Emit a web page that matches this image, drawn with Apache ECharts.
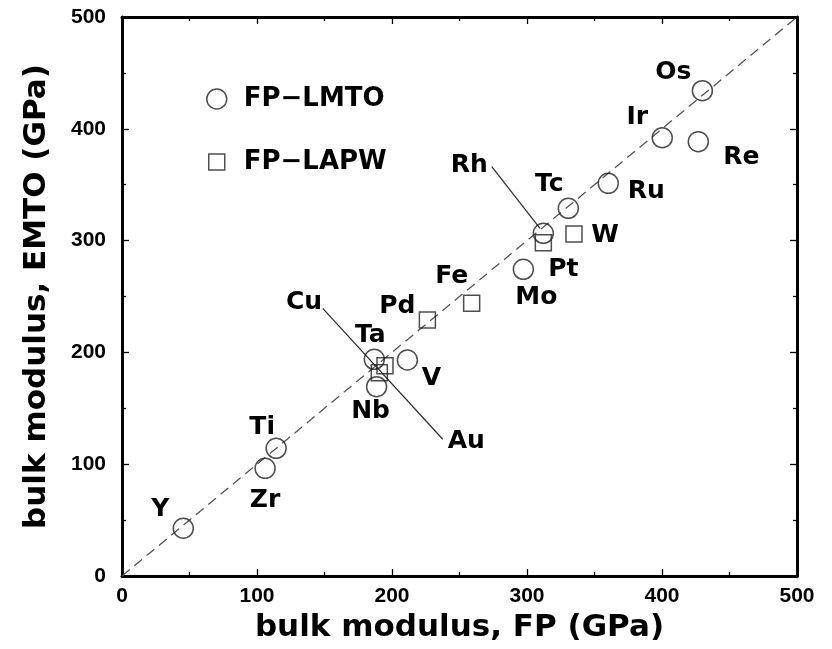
<!DOCTYPE html>
<html>
<head>
<meta charset="utf-8">
<script src="https://cdn.jsdelivr.net/npm/echarts@6/dist/echarts.min.js"></script>
<style>
html,body{margin:0;padding:0;background:#fff;}
#chart{width:832px;height:649px;}
</style>
</head>
<body>
<div id="chart"></div>
<script>
// ---- data ----
const lmtoNames = ['Y','Zr','Ti','Nb','Ta','V','Mo','Rh','Tc','Ru','Ir','Re','Os'];
const lmtoFP    = [45.4,106,114.2,188.6,186.9,211.4,297.3,312.1,330.6,360.2,400.2,426.9,429.9];
const lmtoEMTO  = [42.7,96.3,114.2,169.3,193.8,193.2,274.3,306.5,328.9,351.2,392,388.5,434.1];

const lapwNames = ['Au','Cu','Pd','Fe','Pt','W'];
const lapwFP    = [190.6,194.8,226.2,259,312.1,334.8];
const lapwEMTO  = [181.8,188.1,229,243.9,298.1,305.9];

const diagonal  = [[0,0],[500,500]];
const cuLeader  = [[148.7,239.4],[237.6,122.3]];
const rhLeader  = [[273.9,366.1],[309.6,311]];

const axisMin = 0, axisMax = 500, axisStep = 100;
const xTitle = 'bulk modulus, FP (GPa)';
const yTitle = 'bulk modulus, EMTO (GPa)';
const seriesNames = ['FP\u2212LMTO','FP\u2212LAPW'];

// ---- label placement (pixel offsets, style only) ----
const lmtoLabelOffsets = [[-23,-19],[0,32],[-14,-21],[-6,25],[-4,-24],[24,18],[13,28],[-74,-68],[-19,-24],[38,8],[-25,-20],[43,16],[-29,-18.5]];
const lapwLabelOffsets = [[87,69],[-81,-63],[-30,-13],[-20,-27],[20,27],[31,1]];

const FONT = 'DejaVu Sans';
const TICKFONT = 'Liberation Sans';

function pts(xs, ys, names, offs){
  return xs.map((x,i)=>({
    value:[x, ys[i]], name:names[i],
    label:{offset:offs[i]}
  }));
}

const chart = echarts.init(document.getElementById('chart'), null, {renderer:'canvas'});

function axisBase(pos, showLabel){
  return {
    type:'value', min:axisMin, max:axisMax, interval:axisStep, position:pos,
    axisLine:{show:true, onZero:false, lineStyle:{color:'#000', width:3}},
    axisTick:{show:true, inside:true, length:7, lineStyle:{color:'#000', width:1.3}},
    minorTick:{show:true, splitNumber:2, length:4, lineStyle:{color:'#000', width:1.3}},
    splitLine:{show:false},
    axisLabel:{show:showLabel, color:'#000', fontFamily:TICKFONT, fontWeight:'bold', fontSize:21}
  };
}

const xBottom = axisBase('bottom', true);
xBottom.axisLabel.margin = 10;
xBottom.name = xTitle; xBottom.nameLocation = 'middle'; xBottom.nameGap = 36;
xBottom.nameTextStyle = {color:'#000', fontFamily:FONT, fontWeight:'bold', fontSize:31};
const xTop = axisBase('top', false);

const yLeft = axisBase('left', true);
yLeft.axisLabel.margin = 16;
yLeft.name = yTitle; yLeft.nameLocation = 'middle'; yLeft.nameGap = 70;
yLeft.nameTextStyle = {color:'#000', fontFamily:FONT, fontWeight:'bold', fontSize:31};
const yRight = axisBase('right', false);

const labelStyle = {show:true, position:'inside', formatter:'{b}', color:'#000',
  textBorderWidth:0, textBorderColor:'transparent', opacity:1,
  fontFamily:FONT, fontWeight:'bold', fontSize:25, align:'center', verticalAlign:'middle'};

const option = {
  animation:false,
  backgroundColor:'#fff',
  grid:{left:122, right:35, top:17, bottom:73},
  xAxis:[xBottom, xTop],
  yAxis:[yLeft, yRight],
  legend:[
    {data:[{name:seriesNames[0], icon:'circle', itemStyle:{color:'rgba(0,0,0,0)', borderColor:'#222', borderWidth:1.5}}],
     left:201, top:81, itemWidth:20, itemHeight:20, selectedMode:false,
     textStyle:{color:'#000', fontFamily:FONT, fontWeight:'bold', fontSize:26, padding:[0,0,0,12]}},
    {data:[{name:seriesNames[1], icon:'rect', itemStyle:{color:'rgba(0,0,0,0)', borderColor:'#222', borderWidth:1.5}}],
     left:203, top:144, itemWidth:16, itemHeight:16, selectedMode:false,
     textStyle:{color:'#000', fontFamily:FONT, fontWeight:'bold', fontSize:26, padding:[0,0,0,14]}}
  ],
  series:[
    {type:'line', data:diagonal, symbol:'none', silent:true,
     lineStyle:{color:'#555', width:1.3, type:[10,6]}, z:1},
    {type:'line', data:cuLeader, symbol:'none', silent:true,
     lineStyle:{color:'#333', width:1.3}, z:1},
    {type:'line', data:rhLeader, symbol:'none', silent:true,
     lineStyle:{color:'#333', width:1.3}, z:1},
    {name:seriesNames[0], type:'scatter', symbol:'circle', symbolSize:20,
     data:pts(lmtoFP, lmtoEMTO, lmtoNames, lmtoLabelOffsets),
     itemStyle:{color:'rgba(0,0,0,0)', borderColor:'#222', borderWidth:1.5},
     label:labelStyle, z:3},
    {name:seriesNames[1], type:'scatter', symbol:'rect', symbolSize:16,
     data:pts(lapwFP, lapwEMTO, lapwNames, lapwLabelOffsets),
     itemStyle:{color:'rgba(0,0,0,0)', borderColor:'#222', borderWidth:1.5},
     label:labelStyle, z:3}
  ]
};
chart.setOption(option);
</script>
</body>
</html>
